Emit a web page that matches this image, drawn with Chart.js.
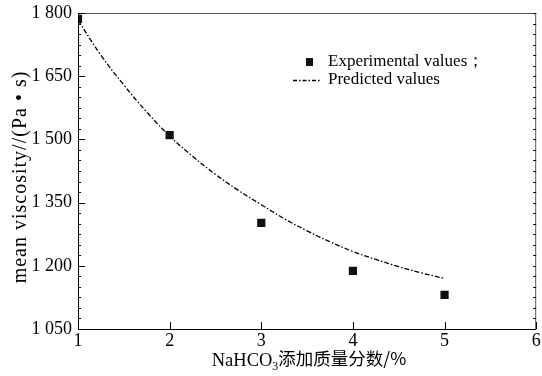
<!DOCTYPE html>
<html>
<head>
<meta charset="utf-8">
<script src="https://cdn.jsdelivr.net/npm/chart.js@4.4.0/dist/chart.umd.min.js"></script>
<style>
html,body{margin:0;padding:0;background:#fff;}
#wrap{width:542px;height:376px;position:relative;}
</style>
</head>
<body>
<div id="wrap"><canvas id="c" width="542" height="376"></canvas></div>
<script>
// ---- data ----
const xTickValues = [1, 2, 3, 4, 5, 6];
const yTickValues = [1050, 1200, 1350, 1500, 1650, 1800];
const expX = [1, 2, 3, 4, 5];
const expY = [1786, 1510, 1302, 1188, 1131];
const predX = [1, 1.25, 1.5, 1.75, 2, 2.25, 2.5, 2.75, 3, 3.25, 3.5, 3.75, 4, 4.25, 4.5, 4.75, 5];
const predY = [1783, 1700, 1629, 1565, 1508, 1460, 1417, 1379, 1345, 1312, 1283, 1257, 1234, 1215, 1198, 1183, 1170];
const legendLabels = ['Experimental values；', 'Predicted values'];
const yTitle = 'mean viscosity//(Pa • s)';
const xTitleMain = 'NaHCO';
const xTitleSub = '3';
const xTitleRest = '添加质量分数/%';

const SERIF = '"Liberation Serif", "Times New Roman", serif';
const CJK = '"Noto Sans CJK SC", sans-serif';

function fmt(v){
  const s = String(v);
  return s.length > 3 ? s.slice(0, s.length - 3) + ' ' + s.slice(-3) : s;
}

const decor = {
  id: 'decor',
  afterDraw(chart){
    const ctx = chart.ctx;
    const a = chart.chartArea;
    const xs = chart.scales.x, ys = chart.scales.y;
    ctx.save();
    // frame
    ctx.lineWidth = 1;
    ctx.strokeStyle = '#555';
    ctx.beginPath();
    ctx.moveTo(a.left, a.top + 0.5); ctx.lineTo(a.right, a.top + 0.5);
    ctx.moveTo(a.right - 0.5, a.top); ctx.lineTo(a.right - 0.5, a.bottom);
    ctx.stroke();
    ctx.strokeStyle = '#000';
    ctx.beginPath();
    ctx.moveTo(a.left + 0.5, a.top); ctx.lineTo(a.left + 0.5, a.bottom + 0.5);
    ctx.lineTo(a.right, a.bottom + 0.5);
    ctx.stroke();
    // ticks
    ctx.beginPath();
    for (const v of yTickValues){
      const y = Math.round(ys.getPixelForValue(v)) + 0.5;
      ctx.moveTo(a.left, y); ctx.lineTo(a.left + 7, y);
    }
    for (let v = 1050; v <= 1800; v += 25){
      const y = Math.round(ys.getPixelForValue(v)) + 0.5;
      ctx.moveTo(a.left, y); ctx.lineTo(a.left + 3, y);
      ctx.moveTo(a.right, y); ctx.lineTo(a.right - 3, y);
    }
    for (const v of xTickValues){
      const x = Math.round(xs.getPixelForValue(v)) + 0.5;
      ctx.moveTo(x, a.bottom); ctx.lineTo(x, a.bottom - 7);
    }
    ctx.stroke();

    // y title
    ctx.fillStyle = '#000';
    ctx.save();
    ctx.translate(21, 177);
    ctx.rotate(-Math.PI / 2);
    ctx.font = '20px ' + SERIF;
    if ('letterSpacing' in ctx) ctx.letterSpacing = '1px';
    ctx.textAlign = 'center';
    ctx.textBaseline = 'middle';
    ctx.fillText(yTitle, 0, 0);
    ctx.restore();

    // x title with subscript
    ctx.textBaseline = 'alphabetic';
    ctx.textAlign = 'left';
    const f1 = '18.5px ' + SERIF, f2 = '12px ' + SERIF, f3 = '17.5px ' + CJK;
    ctx.font = f1; const w1 = ctx.measureText(xTitleMain).width;
    ctx.font = f2; const w2 = ctx.measureText(xTitleSub).width;
    ctx.font = f3; const w3 = ctx.measureText(xTitleRest).width;
    let x0 = 309 - (w1 + w2 + w3) / 2;
    const by = 366;
    ctx.font = f1; ctx.fillText(xTitleMain, x0, by); x0 += w1;
    ctx.font = f2; ctx.fillText(xTitleSub, x0, by + 4); x0 += w2;
    ctx.font = f3; ctx.fillText(xTitleRest, x0, by - 1);

    // legend
    ctx.fillStyle = '#111';
    ctx.fillRect(306, 58, 7, 8);
    ctx.strokeStyle = '#000';
    ctx.lineWidth = 1.3;
    ctx.setLineDash([4, 2, 1.5, 2]);
    ctx.beginPath();
    ctx.moveTo(293, 80.5); ctx.lineTo(320, 80.5);
    ctx.stroke();
    ctx.setLineDash([]);
    ctx.fillStyle = '#000';
    ctx.font = '17px ' + SERIF;
    ctx.textBaseline = 'middle';
    ctx.fillText(legendLabels[0], 328, 62);
    ctx.fillText(legendLabels[1], 328, 80);
    ctx.restore();
  }
};

new Chart(document.getElementById('c'), {
  type: 'scatter',
  data: {
    datasets: [
      {
        label: legendLabels[1],
        data: predX.map((x, i) => ({x: x, y: predY[i]})),
        showLine: true,
        borderColor: '#000',
        borderWidth: 1.3,
        borderDash: [5, 2, 1.5, 2],
        pointRadius: 0,
        tension: 0.4,
        fill: false,
        order: 2
      },
      {
        label: legendLabels[0],
        data: expX.map((x, i) => ({x: x, y: expY[i]})),
        showLine: false,
        pointStyle: 'rect',
        pointRadius: 5.8,
        backgroundColor: '#111',
        borderColor: '#111',
        borderWidth: 0,
        order: 1
      }
    ]
  },
  options: {
    responsive: false,
    animation: false,
    devicePixelRatio: 1,
    layout: { padding: { top: 13, right: 3, left: 0, bottom: 0 } },
    plugins: { legend: { display: false }, tooltip: { enabled: false } },
    scales: {
      x: {
        type: 'linear',
        min: 1, max: 6,
        afterFit(s){ s.height = 47; s.paddingRight = 0; s.paddingLeft = 0; },
        afterBuildTicks(s){ s.ticks = xTickValues.map(v => ({value: v})); },
        grid: { display: false, drawTicks: false },
        border: { display: false },
        ticks: { color: '#000', font: { family: SERIF, size: 18 }, padding: 1, maxRotation: 0 }
      },
      y: {
        type: 'linear',
        min: 1050, max: 1800,
        afterFit(s){ s.width = 78; s.paddingTop = 0; s.paddingBottom = 0; },
        afterBuildTicks(s){ s.ticks = yTickValues.map(v => ({value: v})); },
        grid: { display: false, drawTicks: false },
        border: { display: false },
        ticks: { color: '#000', font: { family: SERIF, size: 18 }, padding: 6, callback: v => fmt(v) }
      }
    }
  },
  plugins: [decor]
});
</script>
</body>
</html>
